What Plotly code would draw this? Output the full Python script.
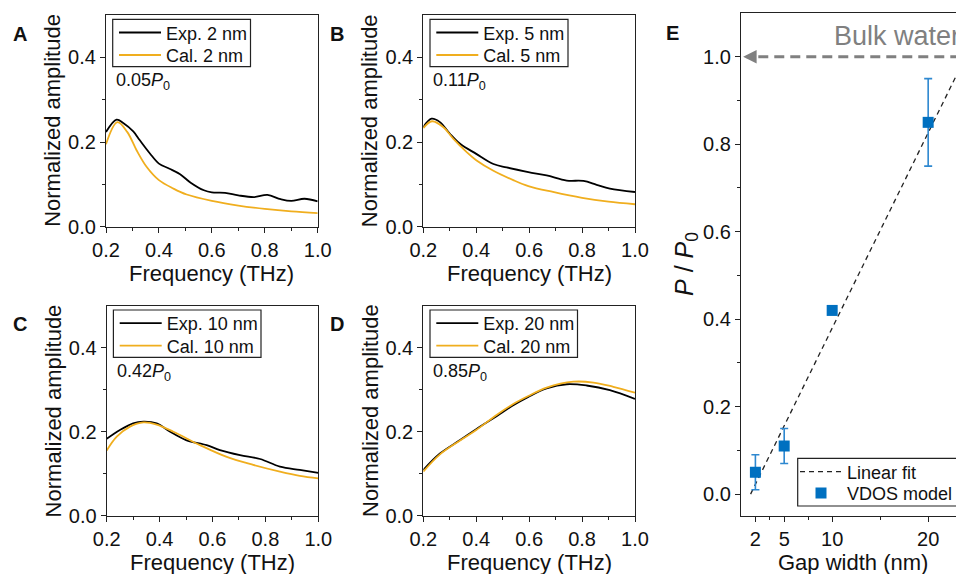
import plotly.graph_objects as go

# ---------------- data ----------------
freq_A_exp = [0.20, 0.24, 0.265, 0.303, 0.328, 0.366, 0.40, 0.44, 0.48, 0.52, 0.57, 0.60, 0.65, 0.70, 0.76, 0.81, 0.86, 0.90, 0.95, 1.00]
amp_A_exp  = [0.2235, 0.253, 0.245, 0.225, 0.204, 0.173, 0.149, 0.137, 0.124, 0.104, 0.086, 0.081, 0.080, 0.074, 0.070, 0.075, 0.065, 0.061, 0.066, 0.060]
freq_A_cal = [0.20, 0.243, 0.28, 0.316, 0.354, 0.40, 0.455, 0.505, 0.60, 0.70, 0.80, 0.90, 1.00]
amp_A_cal  = [0.195, 0.247, 0.224, 0.180, 0.141, 0.110, 0.090, 0.076, 0.061, 0.050, 0.042, 0.036, 0.032]

freq_B_exp = [0.20, 0.231, 0.263, 0.30, 0.339, 0.40, 0.465, 0.515, 0.597, 0.666, 0.742, 0.805, 0.855, 0.905, 1.00]
amp_B_exp  = [0.235, 0.255, 0.247, 0.220, 0.196, 0.172, 0.148, 0.140, 0.129, 0.121, 0.109, 0.108, 0.099, 0.090, 0.082]
freq_B_cal = [0.20, 0.233, 0.276, 0.313, 0.364, 0.40, 0.465, 0.54, 0.597, 0.69, 0.80, 0.90, 1.00]
amp_B_cal  = [0.233, 0.249, 0.235, 0.208, 0.176, 0.157, 0.132, 0.110, 0.096, 0.082, 0.068, 0.059, 0.053]

freq_C_exp = [0.20, 0.25, 0.30, 0.339, 0.389, 0.44, 0.50, 0.578, 0.628, 0.704, 0.78, 0.855, 0.93, 1.00]
amp_C_exp  = [0.183, 0.204, 0.220, 0.224, 0.220, 0.200, 0.180, 0.168, 0.156, 0.144, 0.135, 0.117, 0.109, 0.102]
freq_C_cal = [0.20, 0.238, 0.288, 0.339, 0.389, 0.452, 0.553, 0.654, 0.754, 0.855, 0.93, 1.00]
amp_C_cal  = [0.155, 0.188, 0.212, 0.222, 0.217, 0.200, 0.168, 0.140, 0.121, 0.105, 0.095, 0.089]

freq_D_exp = [0.20, 0.263, 0.339, 0.40, 0.477, 0.54, 0.597, 0.666, 0.742, 0.817, 0.905, 1.00]
amp_D_exp  = [0.109, 0.148, 0.180, 0.206, 0.237, 0.263, 0.283, 0.303, 0.313, 0.310, 0.299, 0.278]
freq_D_cal = [0.20, 0.263, 0.339, 0.40, 0.477, 0.54, 0.597, 0.666, 0.767, 0.843, 0.918, 1.00]
amp_D_cal  = [0.105, 0.146, 0.179, 0.204, 0.240, 0.266, 0.285, 0.305, 0.319, 0.317, 0.307, 0.293]

gaps = ["2", "5", "10", "20"]
power_labels = ["0.05", "0.11", "0.42", "0.85"]

gap_width = [2, 5, 10, 20]
p_ratio   = [0.05, 0.11, 0.42, 0.85]
p_err     = [0.04, 0.04, 0.0, 0.10]

fit_x = [1.5, 23.0]
fit_y = [0.0, 0.96]

bulk_value = 1.0
bulk_x = [2.3, 23.5]

x_ticks_freq = [0.2, 0.4, 0.6, 0.8, 1.0]
y_ticks_amp = [0.0, 0.2, 0.4]
x_ticks_gap = [2, 5, 10, 20]
x_minor_gap = [3.5, 7.5, 15]
y_ticks_p = [0.0, 0.2, 0.4, 0.6, 0.8, 1.0]

# ---------------- styling ----------------
W, H = 956, 574
FONT = "Liberation Sans, Arial, sans-serif"
BLACK = "#000000"
ORANGE = "#F0AE1E"
BLUE = "#0070C0"
EBLUE = "#2E88D0"
GRAY = "#808080"
AX = "#222222"
ITEMW = 42


def px_x(p):
    return p / W


def px_y(p):
    return 1 - p / H


panels = {
    "A": dict(x=(106, 317.7), y=(15, 226.7), box_r=250.5),
    "B": dict(x=(423.3, 635), y=(15, 226.7), box_r=568),
    "C": dict(x=(106.7, 318.3), y=(305.7, 515.7), box_r=261),
    "D": dict(x=(423.3, 635), y=(305.7, 515.7), box_r=577.5),
}

fig = go.Figure()

series = [
    (freq_A_exp, amp_A_exp, freq_A_cal, amp_A_cal),
    (freq_B_exp, amp_B_exp, freq_B_cal, amp_B_cal),
    (freq_C_exp, amp_C_exp, freq_C_cal, amp_C_cal),
    (freq_D_exp, amp_D_exp, freq_D_cal, amp_D_cal),
]

axis_common = dict(
    showline=True, linecolor=AX, linewidth=1.2, mirror=True,
    ticks="outside", ticklen=5, tickwidth=1.2, tickcolor=AX,
    showgrid=False, zeroline=False,
    tickfont=dict(family=FONT, size=20, color="#111111"),
)


def legend_cfg(x_px, center_px):
    # legend item centre sits ~18 px under the legend's top (font 18, no border)
    return dict(x=px_x(x_px), y=px_y(center_px - 18.2), xanchor="left", yanchor="top",
                borderwidth=0, bgcolor="rgba(255,255,255,0)",
                font=dict(family=FONT, size=18, color="#111111"),
                tracegroupgap=0, itemwidth=ITEMW)


def lg_name(k):
    return "legend" if k == 1 else f"legend{k}"


shapes = []
for i, (key, (fx, ax_, fc, ac)) in enumerate(zip("ABCD", series)):
    n = i + 1
    xa = "x" if n == 1 else f"x{n}"
    ya = "y" if n == 1 else f"y{n}"
    lg_e = lg_name(2 * i + 1)
    lg_c = lg_name(2 * i + 2)
    fig.add_trace(go.Scatter(x=fx, y=ax_, mode="lines", name=f"Exp. {gaps[i]} nm",
                             line=dict(color=BLACK, width=1.8, shape="spline", smoothing=1.0),
                             xaxis=xa, yaxis=ya, legend=lg_e))
    fig.add_trace(go.Scatter(x=fc, y=ac, mode="lines", name=f"Cal. {gaps[i]} nm",
                             line=dict(color=ORANGE, width=1.8, shape="spline", smoothing=1.0),
                             xaxis=xa, yaxis=ya, legend=lg_c))
    p = panels[key]
    xn = "xaxis" if n == 1 else f"xaxis{n}"
    yn = "yaxis" if n == 1 else f"yaxis{n}"
    fig.layout[xn] = dict(axis_common, domain=[px_x(p["x"][0]), px_x(p["x"][1])],
                          range=[0.2, 1.0], tickvals=x_ticks_freq, tickformat=".1f",
                          anchor=ya,
                          minor=dict(tickvals=[0.3, 0.5, 0.7, 0.9], ticklen=3, tickcolor=AX, ticks="outside"))
    fig.layout[yn] = dict(axis_common, domain=[px_y(p["y"][1]), px_y(p["y"][0])],
                          range=[0, 0.5], tickvals=y_ticks_amp, tickformat=".1f",
                          anchor=xa,
                          minor=dict(tickvals=[0.1, 0.3], ticklen=3, tickcolor=AX, ticks="outside"))
    # legends (one per entry, framed by a box)
    x0, top = p["x"][0], p["y"][0]
    fig.layout[lg_e] = legend_cfg(x0 + 8, top + 17.5)
    fig.layout[lg_c] = legend_cfg(x0 + 8, top + 40)
    shapes.append(dict(type="rect", xref="paper", yref="paper",
                       x0=px_x(x0 + 6.7), x1=px_x(p["box_r"]),
                       y0=px_y(top + 51.7), y1=px_y(top + 4.3),
                       line=dict(color=AX, width=1.2), fillcolor="rgba(0,0,0,0)"))
    # power annotation
    fig.add_annotation(x=px_x(x0 + 8), y=px_y(top + 67), xref="paper", yref="paper",
                       xanchor="left", yanchor="middle", showarrow=False,
                       text=f"{power_labels[i]}<i>P</i><sub>0</sub>",
                       font=dict(family=FONT, size=18, color="#111111"))
    # y title
    fig.add_annotation(x=px_x(x0 - 53), y=px_y((p["y"][0] + p["y"][1]) / 2), xref="paper", yref="paper",
                       xanchor="center", yanchor="middle", showarrow=False, textangle=-90,
                       text="Normalized amplitude", font=dict(family=FONT, size=22, color="#111111"))
    # x title
    fig.add_annotation(x=px_x((p["x"][0] + p["x"][1]) / 2), y=px_y(p["y"][1] + 46.5), xref="paper", yref="paper",
                       xanchor="center", yanchor="middle", showarrow=False,
                       text="Frequency (THz)", font=dict(family=FONT, size=22, color="#111111"))
    # panel label
    fig.add_annotation(x=px_x(x0 - 86.5), y=px_y(top + 18.5), xref="paper", yref="paper",
                       xanchor="center", yanchor="middle", showarrow=False,
                       text=f"<b>{key}</b>", font=dict(family=FONT, size=20, color="#111111"))

# ---------------- panel E ----------------
E_x = (741, 956)
E_y = (13, 516)

fig.add_trace(go.Scatter(x=bulk_x, y=[bulk_value, bulk_value], mode="lines", showlegend=False,
                         line=dict(color=GRAY, width=3, dash="10px,6px"),
                         xaxis="x5", yaxis="y5", hoverinfo="skip"))
fig.add_trace(go.Scatter(x=fit_x, y=fit_y, mode="lines", name="Linear fit",
                         line=dict(color=AX, width=1.3, dash="5px,4px"),
                         xaxis="x5", yaxis="y5", legend="legend9"))
fig.add_trace(go.Scatter(x=gap_width, y=p_ratio, mode="markers", name="VDOS model",
                         marker=dict(symbol="square", size=11, color=BLUE),
                         error_y=dict(type="data", array=p_err, visible=True, color=EBLUE, thickness=1.6, width=4),
                         xaxis="x5", yaxis="y5", legend="legend10"))

fig.layout["xaxis5"] = dict(axis_common, domain=[px_x(E_x[0]), 1.0], range=[0.5, 22.9],
                            tickvals=x_ticks_gap, anchor="y5",
                            minor=dict(tickvals=x_minor_gap, ticklen=3, tickcolor=AX, ticks="outside"))
fig.layout["yaxis5"] = dict(axis_common, domain=[px_y(E_y[1]), px_y(E_y[0])], range=[-0.05, 1.10],
                            tickvals=y_ticks_p, tickformat=".1f", anchor="x5", mirror=False,
                            minor=dict(tickvals=[0.1, 0.3, 0.5, 0.7, 0.9], ticklen=3, tickcolor=AX, ticks="outside"))
fig.layout["legend9"] = legend_cfg(795, 471.7)
fig.layout["legend10"] = legend_cfg(795, 493)
shapes.append(dict(type="rect", xref="paper", yref="paper",
                   x0=px_x(797.7), x1=px_x(975), y0=px_y(506), y1=px_y(458.3),
                   line=dict(color=AX, width=1.2), fillcolor="rgba(0,0,0,0)"))

# arrow head at bulk water level
fig.add_annotation(x=0.72, y=bulk_value, ax=2.0, ay=bulk_value, xref="x5", yref="y5", axref="x5", ayref="y5",
                   showarrow=True, arrowhead=2, arrowsize=0.9, arrowwidth=3, arrowcolor=GRAY, text="", standoff=0)
fig.add_annotation(x=px_x(831.7), y=px_y(36), xref="paper", yref="paper", xanchor="left", yanchor="middle",
                   showarrow=False, text="Bulk water", font=dict(family=FONT, size=27, color=GRAY))
fig.add_annotation(x=px_x(686), y=px_y(264), xref="paper", yref="paper", xanchor="center", yanchor="middle",
                   showarrow=False, textangle=-90, text="<i>P</i> / <i>P</i><sub>0</sub>",
                   font=dict(family=FONT, size=25, color="#111111"))
fig.add_annotation(x=px_x(853), y=px_y(562), xref="paper", yref="paper", xanchor="center", yanchor="middle",
                   showarrow=False, text="Gap width (nm)", font=dict(family=FONT, size=22, color="#111111"))
fig.add_annotation(x=px_x(672), y=px_y(33), xref="paper", yref="paper", xanchor="center", yanchor="middle",
                   showarrow=False, text="<b>E</b>", font=dict(family=FONT, size=20, color="#111111"))

fig.update_layout(
    width=W, height=H,
    margin=dict(l=0, r=0, t=0, b=0, pad=0, autoexpand=False),
    paper_bgcolor="white", plot_bgcolor="white",
    font=dict(family=FONT, color="#111111"),
    shapes=shapes,
)

fig.write_html("out.html", config={"displayModeBar": False},
               post_script="document.body.style.margin='0px';")
